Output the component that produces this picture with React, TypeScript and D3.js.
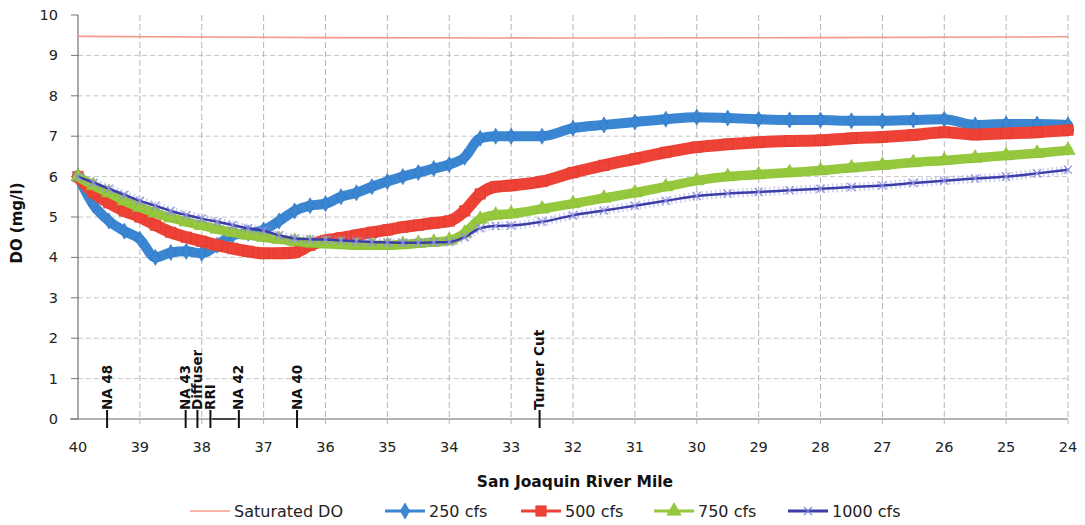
import * as d3 from 'd3';

// river mile sample points (shared by the four flow series)
const miles = [
  40, 39.75, 39.5, 39.25, 39, 38.75, 38.5, 38.25, 38, 37.75, 37.5, 37.25, 37,
  36.75, 36.5, 36.25, 36, 35.75, 35.5, 35.25, 35, 34.75, 34.5, 34.25, 34,
  33.75, 33.5, 33.25, 33, 32.5, 32, 31.5, 31, 30.5, 30, 29.5, 29, 28.5, 28,
  27.5, 27, 26.5, 26, 25.5, 25, 24.5, 24,
];

const do250 = [
  6.0, 5.3, 4.9, 4.65, 4.45, 4.0, 4.12, 4.15, 4.1, 4.3, 4.55, 4.6, 4.68,
  4.9, 5.15, 5.28, 5.33, 5.5, 5.6, 5.75, 5.88, 6.0, 6.1, 6.2, 6.3,
  6.48, 6.95, 7.0, 7.0, 7.0, 7.2, 7.28, 7.35, 7.42, 7.47, 7.45, 7.42, 7.4, 7.4,
  7.38, 7.38, 7.4, 7.42, 7.28, 7.3, 7.3, 7.28,
];

const do500 = [
  6.0, 5.6, 5.35, 5.15, 5.0, 4.8, 4.62, 4.5, 4.4, 4.3, 4.22, 4.15, 4.1,
  4.1, 4.12, 4.3, 4.42, 4.48, 4.55, 4.62, 4.68, 4.75, 4.8, 4.85, 4.9,
  5.15, 5.57, 5.75, 5.78, 5.88, 6.1, 6.28, 6.44, 6.6, 6.73, 6.8, 6.85, 6.88, 6.9,
  6.95, 6.98, 7.03, 7.1, 7.04, 7.07, 7.1, 7.15,
];

const do750 = [
  6.0, 5.78, 5.6, 5.4, 5.24, 5.1, 4.98, 4.88, 4.79, 4.7, 4.62, 4.55, 4.5,
  4.45, 4.4, 4.36, 4.34, 4.32, 4.3, 4.3, 4.3, 4.32, 4.35, 4.38, 4.42,
  4.6, 4.95, 5.05, 5.08, 5.2, 5.33, 5.47, 5.6, 5.75, 5.9, 6.0, 6.05, 6.1, 6.15,
  6.22, 6.28, 6.35, 6.4, 6.46, 6.52, 6.58, 6.65,
];

const do1000 = [
  6.0, 5.85, 5.7, 5.55, 5.4, 5.28, 5.15, 5.05, 4.96, 4.88, 4.8, 4.72, 4.66,
  4.55, 4.47, 4.45, 4.44, 4.42, 4.4, 4.38, 4.37, 4.36, 4.36, 4.37, 4.38,
  4.5, 4.72, 4.78, 4.79, 4.88, 5.04, 5.16, 5.28, 5.4, 5.52, 5.58, 5.62, 5.66, 5.7,
  5.74, 5.78, 5.84, 5.9, 5.95, 6.0, 6.08, 6.17,
];

const satMiles = [40, 36, 32, 28, 24];
const satDO = [9.47, 9.44, 9.43, 9.44, 9.46];

const xTickMiles = [40, 39, 38, 37, 36, 35, 34, 33, 32, 31, 30, 29, 28, 27, 26, 25, 24];
const yTickValues = [0, 1, 2, 3, 4, 5, 6, 7, 8, 9, 10];

const siteNames = ['NA 48', 'NA 43', 'Diffuser', 'RRI', 'NA 42', 'NA 40', 'Turner Cut'];
const siteMiles = [39.53, 38.26, 38.07, 37.86, 37.4, 36.46, 32.54];
const reachDash = [37.83, 37.45];

const W = 1085;
const H = 525;
const FONT = 'DejaVu Sans';

const x = d3.scaleLinear().domain([40, 24]).range([78, 1068]);
const y = d3.scaleLinear().domain([0, 10]).range([419, 15]);

const series = [
  { name: '250 cfs', values: do250, color: '#3a86d2', edge: '#2f74bd', width: 10, marker: 'diamond' },
  { name: '500 cfs', values: do500, color: '#ee4236', edge: '#dc3a2e', width: 12, marker: 'square' },
  { name: '750 cfs', values: do750, color: '#96c83e', edge: '#8abd35', width: 9.5, marker: 'triangle' },
  { name: '1000 cfs', values: do1000, color: '#3b3ea8', edge: '#8e90de', width: 2.5, marker: 'times' },
];

const symbolPath = (kind: string, size: number) => {
  const type =
    kind === 'diamond'
      ? d3.symbolDiamond
      : kind === 'square'
      ? d3.symbolSquare
      : kind === 'triangle'
      ? d3.symbolTriangle
      : d3.symbolTimes;
  return d3.symbol().type(type).size(size)() as string;
};

const markerSize: Record<string, number> = { diamond: 75, square: 110, triangle: 90, times: 45 };

const lineGen = d3
  .line<[number, number]>()
  .x((d) => x(d[0]))
  .y((d) => y(d[1]))
  .curve(d3.curveMonotoneX);

const legendX = [190, 385, 521, 654, 788];
const legendY = 511;

function Marker({ kind, cx, cy, color, edge, size }: any) {
  const d = symbolPath(kind, size);
  if (kind === 'times') {
    return <path d={d} transform={`translate(${cx},${cy})`} fill="none" stroke={edge} strokeWidth={1.2} />;
  }
  return (
    <path d={d} transform={`translate(${cx},${cy})`} fill={color} stroke={edge} strokeWidth={0.6} />
  );
}

export default function App() {
  const satPath = lineGen(satMiles.map((m, i) => [m, satDO[i]] as [number, number]));

  return (
    <svg
      width={W}
      height={H}
      style={{ position: 'absolute', left: 0, top: 0, background: '#fff' }}
      fontFamily={FONT}
    >
      <rect width={W} height={H} fill="#fff" />

      {/* grid */}
      <g>
        {yTickValues
          .filter((v) => v > 0 && v < 10)
          .map((v) => (
            <line
              key={`gy${v}`}
              x1={x(40)}
              x2={x(24)}
              y1={y(v)}
              y2={y(v)}
              stroke="#c8c8c8"
              strokeDasharray="5 3"
            />
          ))}
        {xTickMiles
          .filter((m) => m !== 40)
          .map((m) => (
            <line
              key={`gx${m}`}
              x1={x(m)}
              x2={x(m)}
              y1={y(10)}
              y2={y(0) + 5}
              stroke="#b4b4b4"
              strokeDasharray="6 3"
            />
          ))}
      </g>

      {/* axes */}
      <line x1={x(40)} x2={x(40)} y1={y(10)} y2={y(0)} stroke="#555" />
      <line x1={x(40) - 8} x2={x(24)} y1={y(0)} y2={y(0)} stroke="#666" />
      {yTickValues.map((v) => (
        <g key={`yt${v}`}>
          <line x1={x(40) - 7} x2={x(40)} y1={y(v)} y2={y(v)} stroke="#777" />
          <text x={58} y={y(v) + 5} textAnchor="end" fontSize={14.5} fill="#222">
            {v}
          </text>
        </g>
      ))}
      {xTickMiles.map((m) => (
        <text key={`xt${m}`} x={x(m)} y={452} textAnchor="middle" fontSize={14.5} fill="#222">
          {m}
        </text>
      ))}
      <text
        transform={`translate(22,${(y(0) + y(10)) / 2 + 6}) rotate(-90)`}
        textAnchor="middle"
        fontSize={15}
        fontWeight="bold"
        fill="#111"
      >
        DO (mg/l)
      </text>
      <text x={575} y={487} textAnchor="middle" fontSize={15.5} fontWeight="bold" fill="#111">
        San Joaquin River Mile
      </text>

      {/* saturated DO */}
      <path d={satPath || ''} fill="none" stroke="#f29a8c" strokeWidth={1.6} />

      {/* flow series */}
      {series.map((s) => {
        const pts = miles.map((m, i) => [m, s.values[i]] as [number, number]);
        return (
          <g key={s.name}>
            {s.marker === 'times' ? (
              <path d={lineGen(pts) || ''} fill="none" stroke={s.edge} strokeOpacity={0.45} strokeWidth={9} strokeDasharray="1.5 3" />
            ) : null}
            <path
              d={lineGen(pts) || ''}
              fill="none"
              stroke={s.color}
              strokeWidth={s.width}
              strokeLinejoin="round"
              strokeLinecap="round"
            />
            {pts.map((p, i) => (
              <Marker
                key={i}
                kind={s.marker}
                cx={x(p[0])}
                cy={y(p[1])}
                color={s.color}
                edge={s.edge}
                size={markerSize[s.marker]}
              />
            ))}
          </g>
        );
      })}

      {/* site annotations */}
      {siteNames.map((name, i) => {
        const sx = x(siteMiles[i]);
        return (
          <g key={name}>
            <line x1={sx} x2={sx} y1={410} y2={428} stroke="#111" strokeWidth={2} />
            <text
              transform={`translate(${sx + 4.5},410) rotate(-90)`}
              fontSize={13.5}
              fontWeight="bold"
              fill="#111"
            >
              {name}
            </text>
          </g>
        );
      })}
      <line x1={x(reachDash[0])} x2={x(reachDash[1])} y1={y(0)} y2={y(0)} stroke="#222" strokeWidth={1.5} />

      {/* legend */}
      <g>
        <line x1={legendX[0]} x2={legendX[0] + 40} y1={legendY} y2={legendY} stroke="#f6b7a8" strokeWidth={2} />
        <text x={legendX[0] + 44} y={legendY + 6} fontSize={16} fill="#222">
          Saturated DO
        </text>
        {series.map((s, i) => {
          const lx = legendX[i + 1];
          return (
            <g key={`lg${s.name}`}>
              <line x1={lx} x2={lx + 40} y1={legendY} y2={legendY} stroke={s.marker === 'times' ? '#3b3ea8' : s.color} strokeWidth={3} />
              <Marker
                kind={s.marker}
                cx={lx + 20}
                cy={legendY}
                color={s.color}
                edge={s.marker === 'times' ? '#7d80d8' : s.edge}
                size={markerSize[s.marker]}
              />
              <text x={lx + 44} y={legendY + 6} fontSize={16} fill="#222">
                {s.name}
              </text>
            </g>
          );
        })}
      </g>
    </svg>
  );
}
